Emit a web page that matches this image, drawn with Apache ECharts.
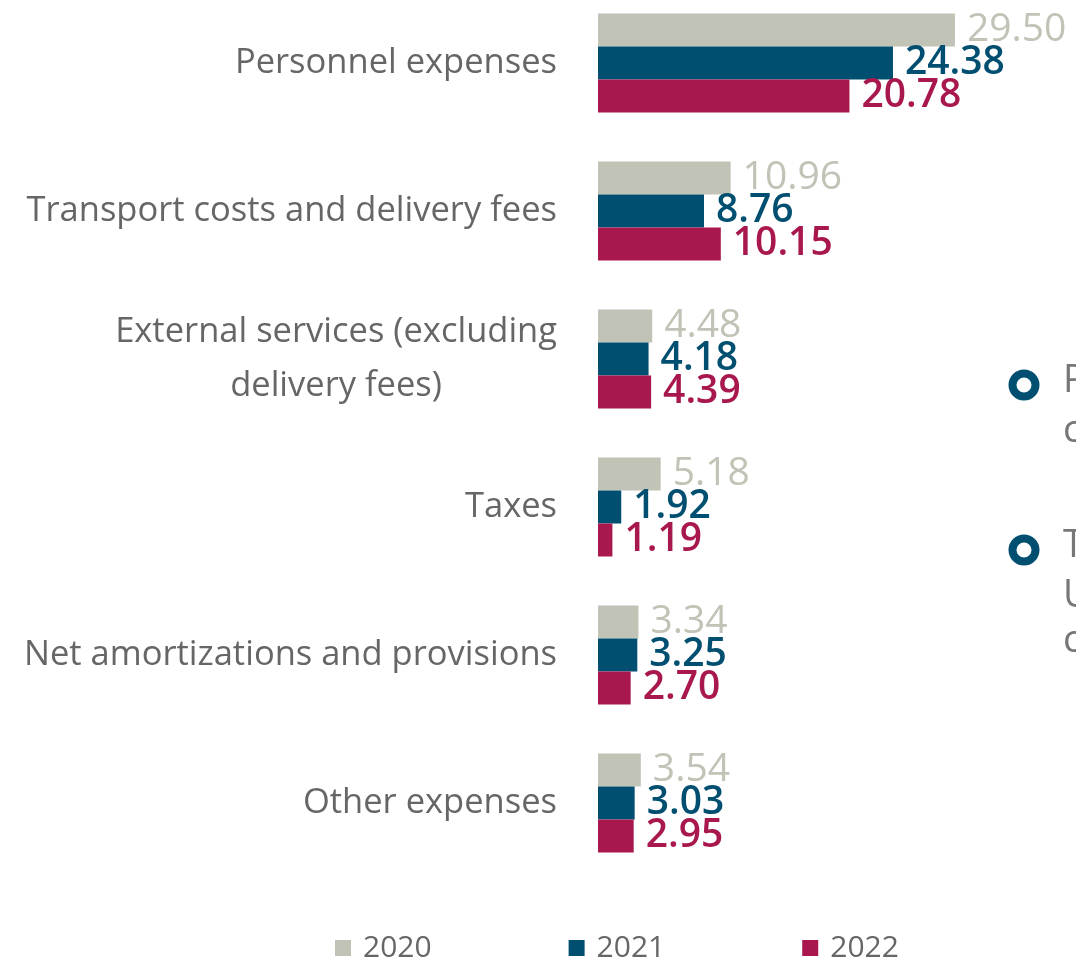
<!DOCTYPE html>
<html>
<head>
<meta charset="utf-8">
<script src="https://cdn.jsdelivr.net/npm/echarts@6/dist/echarts.min.js"></script>
<style>
  html, body { margin: 0; padding: 0; background: #fff; }
  #chart { width: 1076px; height: 958px; }
</style>
</head>
<body>
<div id="chart"></div>
<script>
  const categories = [
    'Personnel expenses',
    'Transport costs and delivery fees',
    'External services (excluding\ndelivery fees)',
    'Taxes',
    'Net amortizations and provisions',
    'Other expenses'
  ]
  const years = ['2020', '2021', '2022']
  const values2020 = [29.50, 10.96, 4.48, 5.18, 3.34, 3.54]
  const values2021 = [24.38, 8.76, 4.18, 1.92, 3.25, 3.03]
  const values2022 = [20.78, 10.15, 4.39, 1.19, 2.70, 2.95]
  const colors = ['#c0c3b5', '#004f71', '#a8184e']

  const font = '"Open Sans", Lato, sans-serif'

  function barSeries(name, data, color, bold) {
    return {
      name: name,
      type: 'bar',
      data: data,
      barWidth: 33,
      barGap: '0%',
      itemStyle: { color: color },
      label: {
        show: true,
        position: 'right',
        distance: 12,
        color: color,
        fontFamily: font,
        fontSize: 39,
        fontWeight: bold ? 600 : 'normal',
        formatter: p => p.value.toFixed(2)
      }
    }
  }

  const chart = echarts.init(document.getElementById('chart'))
  chart.setOption({
    animation: false,
    color: colors,
    grid: {
      left: 598,
      top: -11,
      width: 363,
      height: 888,
      containLabel: false,
      outerBoundsMode: 'none'
    },
    legend: {
      data: years,
      top: 928,
      left: 330,
      itemWidth: 16,
      itemHeight: 16,
      itemGap: 137,
      icon: 'rect',
      textStyle: { fontFamily: font, fontSize: 30, color: '#666', padding: [0, 0, 0, 7] }
    },
    xAxis: {
      type: 'value',
      min: 0,
      max: 30,
      show: false
    },
    yAxis: {
      type: 'category',
      inverse: true,
      data: categories,
      axisLine: { show: false },
      axisTick: { show: false },
      axisLabel: {
        margin: 41,
        align: 'right',
        formatter: v => '{c|' + v.split('\n').join('}\n{c|') + '}',
        rich: {
          c: {
            align: 'center',
            fontFamily: font,
            fontSize: 34.5,
            lineHeight: 54,
            color: '#666'
          }
        }
      }
    },
    graphic: [
      { type: 'circle', shape: { cx: 1024, cy: 385, r: 11.5 }, style: { fill: 'none', stroke: '#004f71', lineWidth: 8 } },
      { type: 'circle', shape: { cx: 1024, cy: 550, r: 11.5 }, style: { fill: 'none', stroke: '#004f71', lineWidth: 8 } },
      { type: 'text', left: 1063, top: 362, style: { text: 'P', fontFamily: font, fontSize: 38, fill: '#777' } },
      { type: 'text', left: 1063, top: 412, style: { text: 'c', fontFamily: font, fontSize: 38, fill: '#777' } },
      { type: 'text', left: 1063, top: 527, style: { text: 'T', fontFamily: font, fontSize: 38, fill: '#777' } },
      { type: 'text', left: 1063, top: 577, style: { text: 'U', fontFamily: font, fontSize: 38, fill: '#777' } },
      { type: 'text', left: 1063, top: 622, style: { text: 'c', fontFamily: font, fontSize: 38, fill: '#777' } }
    ],
    series: [
      barSeries('2020', values2020, colors[0], false),
      barSeries('2021', values2021, colors[1], true),
      barSeries('2022', values2022, colors[2], true)
    ]
  })
</script>
</body>
</html>
